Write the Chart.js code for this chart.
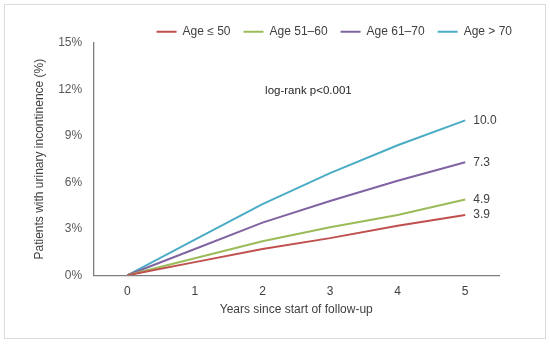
<!DOCTYPE html>
<html><head><meta charset="utf-8">
<script src="https://cdn.jsdelivr.net/npm/chart.js@4"></script>
<style>
html,body{margin:0;padding:0;background:#fff;}
#wrap{position:relative;width:550px;height:344px;}
#frame{position:absolute;left:4px;top:4px;width:542px;height:335px;border:1px solid #dcdcdc;box-sizing:border-box;pointer-events:none;}
canvas{position:absolute;left:0;top:0;}
</style></head><body>
<div id="wrap"><canvas id="c" width="550" height="344"></canvas><div id="frame"></div></div>
<script>
const years = ['0','1','2','3','4','5'];
const seriesNames = ['Age ≤ 50','Age 51–60','Age 61–70','Age > 70'];
const ageLe50   = [0, 0.85, 1.7, 2.4, 3.2, 3.9];
const age51to60 = [0, 1.1, 2.2, 3.1, 3.9, 4.9];
const age61to70 = [0, 1.7, 3.4, 4.8, 6.1, 7.3];
const ageGt70   = [0, 2.3, 4.6, 6.6, 8.4, 10.0];
const yTicks = [0, 3, 6, 9, 12, 15];
const colors = ['#C0504D', '#9BBB59', '#8064A2', '#4BACC6'];
const annotationText = 'log-rank p<0.001';
const annotationAt = {x: 2.68, y: 11.9};

const FONT = '"Liberation Sans", Arial, sans-serif';
const seriesValues = [ageLe50, age51to60, age61to70, ageGt70];

const endLabels = {
  id: 'endLabels',
  afterDatasetsDraw(chart) {
    const ctx = chart.ctx;
    ctx.save();
    ctx.font = '12px ' + FONT;
    ctx.fillStyle = '#404040';
    ctx.textAlign = 'left';
    ctx.textBaseline = 'middle';
    chart.data.datasets.forEach((ds, i) => {
      const meta = chart.getDatasetMeta(i);
      const pt = meta.data[meta.data.length - 1];
      const v = ds.data[ds.data.length - 1];
      ctx.fillText(v.toFixed(1), pt.x + 8, pt.y);
    });
    const xs = chart.scales.x, ys = chart.scales.y;
    ctx.font = '11.5px ' + FONT;
    ctx.fillStyle = '#262626';
    ctx.textAlign = 'center';
    ctx.fillText(annotationText, xs.getPixelForValue(annotationAt.x), ys.getPixelForValue(annotationAt.y));
    ctx.restore();
  }
};

const legendHeight = {
  id: 'legendHeight',
  afterInit(chart) {
    const lg = chart.legend;
    if (!lg) return;
    const f = lg.fit.bind(lg);
    lg.fit = function () { f(); this.height = 30.3; };
  }
};

new Chart(document.getElementById('c'), {
  type: 'line',
  data: {
    labels: years,
    datasets: seriesNames.map((n, i) => ({
      label: n,
      data: seriesValues[i],
      borderColor: colors[i],
      backgroundColor: colors[i],
      borderWidth: 2,
      pointRadius: 0,
      tension: 0,
      fill: false
    }))
  },
  options: {
    responsive: false,
    animation: false,
    devicePixelRatio: 1,
    layout: {padding: {left: 32.5, right: 25, top: 12.7, bottom: 26.8}},
    plugins: {
      tooltip: {enabled: false},
      legend: {
        position: 'top',
        align: 'end',
        labels: {
          usePointStyle: true,
          pointStyle: 'line',
          pointStyleWidth: 20,
          padding: 13,
          color: '#404040',
          font: {family: FONT, size: 12}
        }
      }
    },
    scales: {
      x: {
        type: 'category',
        offset: true,
        grid: {display: false, drawTicks: false},
        border: {display: true, color: '#7f7f7f', width: 1.3},
        ticks: {color: '#404040', padding: 9.2, font: {family: FONT, size: 12}},
        title: {display: true, text: 'Years since start of follow-up', color: '#404040',
                font: {family: FONT, size: 12}, padding: {top: -5.3, bottom: 0}},
        afterFit(s) { s.paddingRight = 51; }
      },
      y: {
        min: 0, max: 15,
        grid: {display: false, drawTicks: false},
        border: {display: true, color: '#7f7f7f', width: 1.3},
        afterBuildTicks(s) { s.ticks = yTicks.map(v => ({value: v})); },
        ticks: {color: '#595959', padding: 11.3, font: {family: FONT, size: 12},
                callback: v => v + '%'},
        title: {display: true, text: 'Patients with urinary incontinence (%)', color: '#404040',
                font: {family: FONT, size: 12}, padding: {top: 0, bottom: 0}}
      }
    }
  },
  plugins: [endLabels, legendHeight]
});
</script>
</body></html>
